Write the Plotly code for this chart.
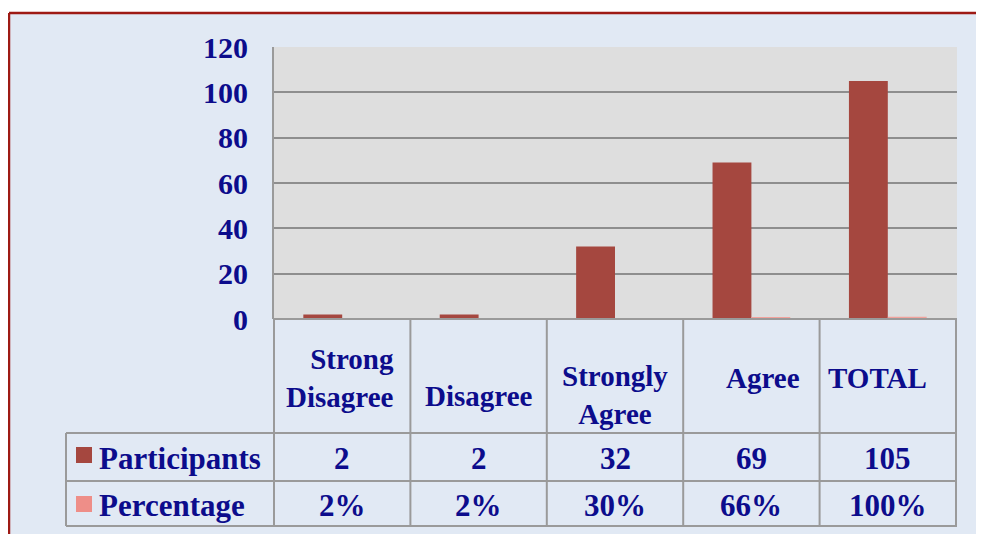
import plotly.graph_objects as go

categories = ["Strong Disagree", "Disagree", "Strongly Agree", "Agree", "TOTAL"]
header_labels = ["Strong<br>Disagree", "Disagree", "Strongly<br>Agree", "Agree", "TOTAL"]
participants = [2, 2, 32, 69, 105]
percentage = [0.02, 0.02, 0.30, 0.66, 1.00]
participants_text = ["2", "2", "32", "69", "105"]
percentage_text = ["2%", "2%", "30%", "66%", "100%"]
series_names = ["Participants", "Percentage"]
y_ticks = [0, 20, 40, 60, 80, 100, 120]

# page body has an 8px margin; work in reference pixel coordinates
O = 8
W, H = 984 - O, 534 - O
L, R, T, B = 273, 957, 47, 319
pw, ph = R - L, B - T

def px(x):
    return (x - L) / pw

def py(y):
    return (B - y) / ph

TXT = "#0C0C8C"
FONT = "Liberation Serif"
GRID = "#8E8E8E"
TAB = "#9A9A9A"
BG = "#E1E9F4"
C1 = "#A5473F"
C2 = "#F2A29C"
C2_KEY = "#EE8E88"

fig = go.Figure()
fig.add_bar(x=categories, y=participants, name=series_names[0], marker=dict(color=C1, line=dict(width=0)))
fig.add_bar(x=categories, y=percentage, name=series_names[1], marker=dict(color=C2, line=dict(width=0)))

shapes = []
# white outside border + red border
shapes.append(dict(type="rect", xref="paper", yref="paper", x0=px(-10), x1=px(1000), y0=py(13), y1=py(-10),
                   fillcolor="white", line=dict(width=0), layer="below"))
shapes.append(dict(type="rect", xref="paper", yref="paper", x0=px(-10), x1=px(9), y0=py(560), y1=py(13),
                   fillcolor="white", line=dict(width=0), layer="below"))
shapes.append(dict(type="line", xref="paper", yref="paper", x0=px(9), x1=px(1000), y0=py(13), y1=py(13),
                   line=dict(color="#9E1A14", width=2.5)))
shapes.append(dict(type="line", xref="paper", yref="paper", x0=px(9), x1=px(9), y0=py(13), y1=py(560),
                   line=dict(color="#9E1A14", width=2.5)))

# table horizontal lines
for yy, x0 in [(319, 273), (433, 66), (481, 66), (526, 66)]:
    shapes.append(dict(type="line", xref="paper", yref="paper", x0=px(x0), x1=px(957), y0=py(yy), y1=py(yy),
                       line=dict(color=TAB, width=2)))
# table vertical lines (category boundaries)
n = len(categories)
for i in range(n + 1):
    shapes.append(dict(type="line", xref="x", yref="paper", x0=i - 0.5, x1=i - 0.5, y0=py(526), y1=py(319),
                       line=dict(color=TAB, width=2)))
shapes.append(dict(type="line", xref="paper", yref="paper", x0=px(66), x1=px(66), y0=py(526), y1=py(433),
                   line=dict(color=TAB, width=2)))
# left axis line through plot
shapes.append(dict(type="line", xref="paper", yref="paper", x0=0, x1=0, y0=0, y1=1,
                   line=dict(color=TAB, width=2)))
# legend keys
shapes.append(dict(type="rect", xref="paper", yref="paper", x0=px(76), x1=px(92), y0=py(463), y1=py(447),
                   fillcolor=C1, line=dict(width=0)))
shapes.append(dict(type="rect", xref="paper", yref="paper", x0=px(76), x1=px(92), y0=py(512), y1=py(496),
                   fillcolor=C2_KEY, line=dict(width=0)))

font = dict(family=FONT, size=31, color=TXT, weight="bold")
font_hdr = dict(family=FONT, size=29, color=TXT, weight="bold")
font_tick = dict(family=FONT, size=30, color=TXT, weight="bold")
ann = []
hdr_y = [378, 396, 395, 378, 378]
hdr_dx = [-2, 0, 0, 12, -10]
hdr_align = ["right", "center", "center", "center", "center"]
for i, c in enumerate(categories):
    ann.append(dict(x=c, xref="x", y=py(hdr_y[i]), yref="paper", text=header_labels[i], showarrow=False,
                    font=font_hdr, align=hdr_align[i], xshift=hdr_dx[i], yanchor="middle"))
    ann.append(dict(x=c, xref="x", y=py(458), yref="paper", text=participants_text[i], showarrow=False,
                    font=font, yanchor="middle"))
    ann.append(dict(x=c, xref="x", y=py(505), yref="paper", text=percentage_text[i], showarrow=False,
                    font=font, yanchor="middle"))
for name, yy in zip(series_names, [458, 505]):
    ann.append(dict(x=px(97), xref="paper", y=py(yy), yref="paper", text=name, showarrow=False,
                    font=font, xanchor="left", yanchor="middle"))

fig.update_layout(
    width=W, height=H,
    margin=dict(l=L - O, r=984 - R, t=T - O, b=534 - B, pad=0),
    paper_bgcolor=BG, plot_bgcolor="#DEDEDE",
    barmode="group", bargap=0.43, bargroupgap=0,
    showlegend=False,
    shapes=shapes, annotations=ann,
    xaxis=dict(showticklabels=False, showgrid=False, zeroline=False, showline=False, ticks=""),
    yaxis=dict(range=[0, 120], tickvals=y_ticks, showgrid=True, gridcolor=GRID, gridwidth=2,
               zeroline=False, showline=False, ticks="", tickfont=font_tick, ticklabelstandoff=24),
)
fig.write_html("out.html")
